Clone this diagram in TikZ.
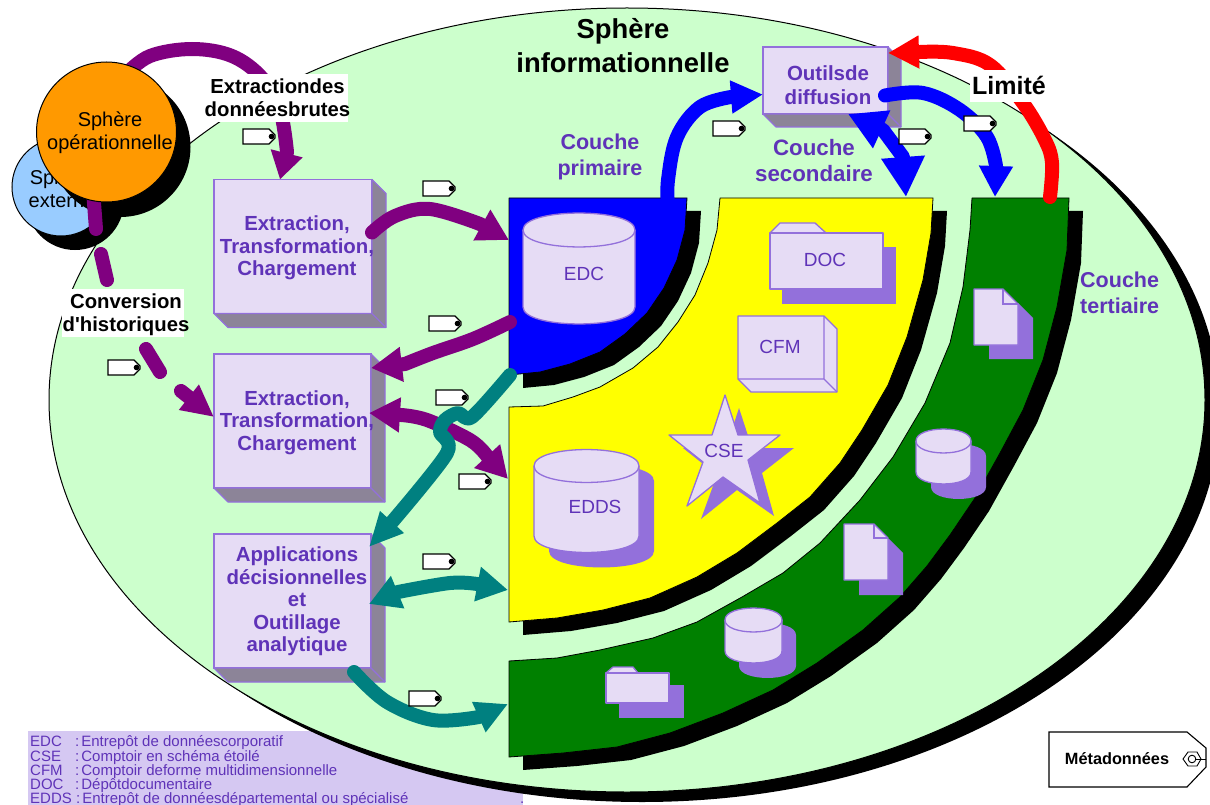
\documentclass[tikz,border=0pt]{standalone}
\usepackage{fontspec}
\setmainfont{Liberation Sans}
\usetikzlibrary{arrows.meta,calc}
\definecolor{sphgreen}{HTML}{CCFFCC}
\definecolor{pface}{HTML}{E6DCF5}
\definecolor{pline}{HTML}{9370DB}
\definecolor{pgray}{HTML}{8C8498}
\definecolor{ptext}{HTML}{5F33B8}
\definecolor{plegend}{HTML}{D5C8F2}
\definecolor{flowp}{HTML}{800080}
\definecolor{flowt}{HTML}{008080}
\definecolor{flowb}{HTML}{0000FF}
\definecolor{flowr}{HTML}{FF0000}
\definecolor{bandg}{HTML}{008000}
\definecolor{bandy}{HTML}{FFFF00}
\definecolor{sphorange}{HTML}{FF9900}
\definecolor{sphblue}{HTML}{99CCFF}
\tikzset{
  band/.style={draw=black,line width=.8pt,line join=round},
  facep/.style={fill=pface,draw=pline,line width=1.3pt,line join=round},
  shadep/.style={fill=pline},
  boxface/.style={rectangle,fill=pface,draw=pline,line width=1.5pt,inner sep=0pt,outer sep=0pt},
  boxtext/.style={align=center,text=ptext,inner sep=0pt,font=\fontsize{20.4}{22.6}\selectfont\bfseries},
  boxside/.style={fill=pgray,draw=pline,line width=1.2pt,line join=round},
  flowline/.style={line width=14pt,line cap=round,line join=round},
  headA/.style={-{Triangle[length=31pt,width=33pt]}},
  headB/.style={{Triangle[length=31pt,width=33pt]}-{Triangle[length=31pt,width=33pt]}},
  smallname/.style={text=ptext,font=\fontsize{19}{22}\selectfont,inner sep=0pt},
  layertext/.style={text=ptext,align=center,inner sep=0pt,font=\fontsize{21.5}{25.5}\selectfont\bfseries},
  whitelabel/.style={text=black,align=center,inner sep=0pt,font=\fontsize{20.3}{23}\selectfont\bfseries},
  legendtext/.style={text=ptext,anchor=base west,inner sep=0pt,font=\fontsize{15}{15}\selectfont},
  sphere/.style={circle,draw=black,line width=1pt,inner sep=0pt},
  spheretext/.style={align=center,text=black,inner sep=0pt,font=\fontsize{20}{23}\selectfont},
  tagpic/.pic={
    \draw[fill=white,draw=black,line width=1.1pt,line join=miter] (0,0) -- (26,0) -- (32,6) -- (32,9) -- (26,15) -- (0,15) -- cycle;
    \fill[black] (28.5,7.5) circle (2.8);
  }
}
\newcommand{\cylshape}[7]{%
  \fill[shadep,shift={(#6,#7)}] (#1,#3) -- (#1,#4) .. controls (#1,{#4+1.33*#5}) and (#2,{#4+1.33*#5}) .. (#2,#4) -- (#2,#3) .. controls (#2,{#3-1.33*#5}) and (#1,{#3-1.33*#5}) .. (#1,#3) -- cycle;
  \path[facep] (#1,#3) -- (#1,#4) .. controls (#1,{#4+1.33*#5}) and (#2,{#4+1.33*#5}) .. (#2,#4) -- (#2,#3) .. controls (#2,{#3-1.33*#5}) and (#1,{#3-1.33*#5}) .. (#1,#3) -- cycle;
  \draw[pline,line width=1.3pt] (#1,#3) .. controls (#1,{#3+1.33*#5}) and (#2,{#3+1.33*#5}) .. (#2,#3);
}
\newcommand{\boxdepth}[2]{%
  \path[boxside] (#1.north east) -- ($(#1.north east)+(#2,#2)$) -- ($(#1.south east)+(#2,#2)$) -- ($(#1.south west)+(#2,#2)$) -- (#1.south west) -- (#1.south east) -- cycle;
  \draw[pline,line width=1.2pt] (#1.south east) -- +(#2,#2);
}
\begin{document}
\begin{tikzpicture}[x=1pt,y=-1pt]
\useasboundingbox (0,0) rectangle (1210,805);
\clip (0,0) rectangle (1210,805);
% legend panel
\fill[plegend] (28,731) rectangle (523,805);
% information sphere
\fill[black] (642,410) ellipse [x radius=578,y radius=392];
\draw[fill=sphgreen,draw=black,line width=1pt] (627,400) ellipse [x radius=578,y radius=392];
% layer outlines
\def\bluepts{(509,198) -- (687,198) -- (685,230) -- (677,260) -- (664,288) -- (647,313) -- (625,334) -- (600,352) -- (570,364) -- (540,372) -- (509,375) -- cycle}
\fill[black,shift={(14,13)}] \bluepts;
\path[band,fill=flowb] \bluepts;
\def\yellowpts{(720,198) -- (933,198) -- (931,233) -- (923,280) -- (907,337) -- (888,385) -- (862,430) -- (840,463) -- (810,497) -- (777,523) -- (737,553) -- (697,577) -- (650,598) -- (603,610) -- (557,618) -- (509,622) -- (509,407) -- (543,406) -- (573,397) -- (600,387) -- (633,368) -- (658,347) -- (678,322) -- (695,295) -- (708,263) -- (717,230) -- cycle}
\fill[black,shift={(14,13)}] \yellowpts;
\path[band,fill=bandy] \yellowpts;
\def\greenpts{(972,198) -- (1069,198) -- (1067,250) -- (1057,307) -- (1043,360) -- (1023,410) -- (1000,453) -- (975,498) -- (950,535) -- (927,566) -- (900,597) -- (863,630) -- (817,663) -- (773,690) -- (723,713) -- (670,733) -- (617,747) -- (563,753) -- (509,757) -- (509,661) -- (557,658) -- (600,650) -- (653,638) -- (697,622) -- (742,597) -- (783,573) -- (820,543) -- (860,500) -- (893,457) -- (925,403) -- (950,343) -- (963,287) -- (970,230) -- cycle}
\fill[black,shift={(14,13)}] \greenpts;
\path[band,fill=bandg] \greenpts;
% stores
\cylshape{523}{635}{230}{307}{17}{0}{0}
\node[smallname] (edc) at (584,274) {EDC};
\cylshape{534}{639}{466}{536}{16.5}{15}{15}
\node[smallname] (edds) at (595,507) {EDDS};
\cylshape{916}{971}{441}{472}{12}{15}{15}
\cylshape{725}{782}{620}{651}{12}{14}{15}
% folders
\fill[shadep] (782,247) rectangle (896,304);
\path[facep] (770,233) -- (780,223) -- (815,223) -- (826,233) -- cycle;
\path[facep] (770,233) rectangle (883,289);
\node[smallname] (doc) at (825,260) {DOC};
\fill[shadep] (619,685) rectangle (684,718);
\path[facep] (606,673) -- (613,667) -- (633,667) -- (638,673) -- cycle;
\path[facep] (606,673) rectangle (669,703);
% cube
\path[facep] (738,316) -- (824,316) -- (837,329) -- (837,392) -- (751,392) -- (738,379) -- cycle;
\draw[pline,line width=1.3pt] (738,379) -- (824,379) -- (824,316) (824,379) -- (837,392);
\node[smallname] (cfm) at (780,347) {CFM};
% star
\def\starpts{(725,395) -- (738,435) -- (780,435) -- (748,460) -- (760,503) -- (723,477) -- (687,506) -- (703,462) -- (669,435) -- (712,435) -- cycle}
\fill[shadep,shift={(14,13)}] \starpts;
\path[facep] \starpts;
\node[smallname] (cse) at (724,451) {CSE};
% documents
\def\docpts{(974,289) -- (1003,289) -- (1018,304) -- (1018,345) -- (974,345) -- cycle}
\fill[shadep,shift={(15,14)}] \docpts;
\path[facep] \docpts;
\draw[pline,line width=1.3pt] (1003,289) -- (1003,304) -- (1018,304);
\def\docbpts{(844,524) -- (874,524) -- (888,538) -- (888,580) -- (844,580) -- cycle}
\fill[shadep,shift={(15,15)}] \docbpts;
\path[facep] \docbpts;
\draw[pline,line width=1.3pt] (874,524) -- (874,538) -- (888,538);
% process boxes
\node[boxface,minimum width=158pt,minimum height=134pt] (etlA) at (293,246.5) {};
\boxdepth{etlA}{14}
\node[boxtext] (etlAtext) at (297,248) {Extraction,\\Transformation,\\Chargement};
\node[boxface,minimum width=157pt,minimum height=134pt] (etlB) at (292.5,421) {};
\boxdepth{etlB}{14}
\node[boxtext] (etlBtext) at (297,422.5) {Extraction,\\Transformation,\\Chargement};
\node[boxface,minimum width=157pt,minimum height=134pt] (apps) at (292.5,601) {};
\boxdepth{apps}{14}
\node[boxtext] (appstext) at (297,601.5) {Applications\\décisionnelles\\et\hspace*{10pt}\\Outillage\\analytique};
\node[boxface,minimum width=125pt,minimum height=67pt] (outils) at (825.5,80.5) {};
\boxdepth{outils}{13}
\node[boxtext,font=\fontsize{20.5}{24}\selectfont\bfseries] (outilstext) at (828,85) {Outilsde\\diffusion};
% spheres, back parts
\fill[black] (75,201) circle (49);
\node[sphere,fill=sphblue,minimum size=98pt] (ext) at (61,187) {};
\node[spheretext] (exttext) at (62,189) {Sphère\\externe};
\fill[black] (120.5,147) circle (70);
\coordinate (opTop) at (125,75);
\coordinate (opLow) at (93,190);
\coordinate (blueTop) at (668,205);
\coordinate (yellowEdds) at (508,479);
\coordinate (yellowLow) at (508,590);
\coordinate (yellowTop) at (906,197);
\coordinate (greenTopA) at (995,197);
\coordinate (greenTopB) at (1050,197);
\coordinate (greenLeft) at (508,704);
\coordinate (edcIn) at (509,240);
\coordinate (edcOutA) at (510,322);
\coordinate (edcOutB) at (510,375);
% connectors
\draw[flowline,flowp,-{Triangle[length=27pt,width=31pt]}] plot[smooth,tension=.6] coordinates {(opTop) (150,56) (192,49) (232,56) (262,78) (280,110) (287,152)} -- ([xshift=-13pt]etlA.north);
\draw[flowline,flowp] (opLow) -- (96,229) (101,254) -- (107,280) (146,349) -- (160,372);
\draw[flowline,flowp,-{Triangle[length=32pt,width=30pt]}] (181,391) -- ([yshift=4pt]etlB.west);
\draw[flowline,flowp,headA] plot[smooth,tension=.6] coordinates {([yshift=14pt]etlA.east) (395,216) (430,209) (480,224)} -- (edcIn);
\draw[flowline,flowp,headA] plot[smooth,tension=.6] coordinates {(edcOutA) (473,339) (433,353) (405,364)} -- ([yshift=53pt]etlB.east);
\draw[flowline,flowp,headB] ([xshift=-2pt,yshift=8pt]etlB.east) -- plot[smooth,tension=.6] coordinates {(401,415) (427,420) (470,440) (487,456)} -- (yellowEdds);
\draw[flowline,flowt,-{Triangle[length=34pt,width=30pt]}] plot[smooth,tension=.5] coordinates {(edcOutB) (472,417) (458,413) (445,420) (440,432) (447,453) (392,522)} -- ([xshift=-2pt,yshift=54pt]apps.east);
\draw[flowline,flowt,headB] ([xshift=-2pt,yshift=-3pt]apps.east) -- plot[smooth,tension=.6] coordinates {(398,592) (450,583) (477,584)} -- (yellowLow);
\draw[flowline,flowt,-{Triangle[length=32pt,width=31pt]}] plot[smooth,tension=.6] coordinates {([xshift=-17pt,yshift=-4pt]apps.south east) (387,702) (433,720) (479,717)} -- (greenLeft);
\draw[flowline,flowb,-{Triangle[length=32pt,width=31pt]}] plot[smooth,tension=.6] coordinates {(blueTop) (668,180) (677,137) (700,107) (731,97)} -- ([yshift=-14pt]outils.west);
\draw[flowline,flowb,{Triangle[length=37pt,width=39pt]}-{Triangle[length=40pt,width=41pt]}] ([xshift=22.5pt]outils.south) -- plot[smooth,tension=.6] coordinates {(883,130) (903,157)} -- (yellowTop);
\draw[flowline,flowb,-{Triangle[length=31pt,width=32pt]}] plot[smooth,tension=.6] coordinates {([xshift=-3pt,yshift=-15pt]outils.east) (923,93) (960,110) (987,137) (996,166)} -- (greenTopA);
\draw[flowline,flowr,-{Triangle[length=31pt,width=31pt]}] plot[smooth,tension=.6] coordinates {(greenTopB) (1052,163) (1045,140) (1023,103) (990,65) (953,53) (920,52)} -- ([yshift=-6pt]outils.north east);
% orange sphere
\node[sphere,fill=sphorange,minimum size=140pt] (oper) at (106.5,132) {};
\node[spheretext] (opertext) at (110,133) {Sphère\\opérationnelle};
% labels
\node[text=black,align=center,inner sep=0pt,font=\fontsize{27.4}{34}\selectfont\bfseries] (title) at (623,46) {Sphère\\informationnelle};
\node[layertext] (coucheA) at (600,157) {Couche\\primaire};
\node[layertext,font=\fontsize{22.3}{26}\selectfont\bfseries] (coucheB) at (814,161) {Couche\\secondaire};
\node[layertext,align=left,anchor=west] (coucheC) at (1080,293) {Couche\\tertiaire};
\fill[white] (202,74) rectangle (348,122);
\node[whitelabel] (lblE) at (277.5,97.5) {Extractiondes\\donnéesbrutes};
\fill[white] (62,289) rectangle (184,337);
\node[whitelabel] (lblC) at (126,315) {Conversion\\d\textquotesingle historiques};
\fill[white] (970,70) rectangle (1047,102);
\node[whitelabel,font=\fontsize{25}{27}\selectfont\bfseries] (lblL) at (1009,85) {Limité};
% tags
\pic at (243,129) {tagpic};
\pic at (423,181) {tagpic};
\pic at (429,316) {tagpic};
\pic at (436,390) {tagpic};
\pic at (459,474) {tagpic};
\pic at (423,554) {tagpic};
\pic at (409,691) {tagpic};
\pic at (108,360) {tagpic};
\pic at (713,121) {tagpic};
\pic at (899,129) {tagpic};
\pic at (964,116) {tagpic};
% metadata tag
\draw[fill=white,draw=black,line width=1.1pt] (1049,732) -- (1187,732) -- (1206,748) -- (1206,767) -- (1187,787) -- (1049,787) -- cycle;
\draw[black,line width=.9pt] (1201,759) -- (1197,752) -- (1188,752) -- (1183,759) -- (1188,766) -- (1197,766) -- cycle;
\draw[black,line width=.9pt] (1192,759) circle (3.8);
\draw[black,line width=.9pt] (1196,759) -- (1206,759);
\node[text=black,inner sep=0pt,font=\fontsize{16.3}{18}\selectfont\bfseries] (meta) at (1117,759) {Métadonnées};
% legend
\node[legendtext] (la) at (30,746) {EDC};
\node[legendtext] (lb) at (30,761) {CSE};
\node[legendtext] (lc) at (30,775) {CFM};
\node[legendtext] (ld) at (30,789) {DOC};
\node[legendtext] (le) at (30,803) {EDDS};
\node[legendtext] (lac) at (75,746) {:\hspace{2pt}Entrepôt de donnéescorporatif};
\node[legendtext] (lbc) at (75,761) {:\hspace{2pt}Comptoir en schéma étoilé};
\node[legendtext] (lcc) at (75,775) {:\hspace{2pt}Comptoir deforme multidimensionnelle};
\node[legendtext] (ldc) at (75,789) {:\hspace{2pt}Dépôtdocumentaire};
\node[legendtext] (lec) at (76,803) {:\hspace{2pt}Entrepôt de donnéesdépartemental ou spécialisé};
\node[legendtext] (ldot) at (520,803) {.};
\end{tikzpicture}
\end{document}
